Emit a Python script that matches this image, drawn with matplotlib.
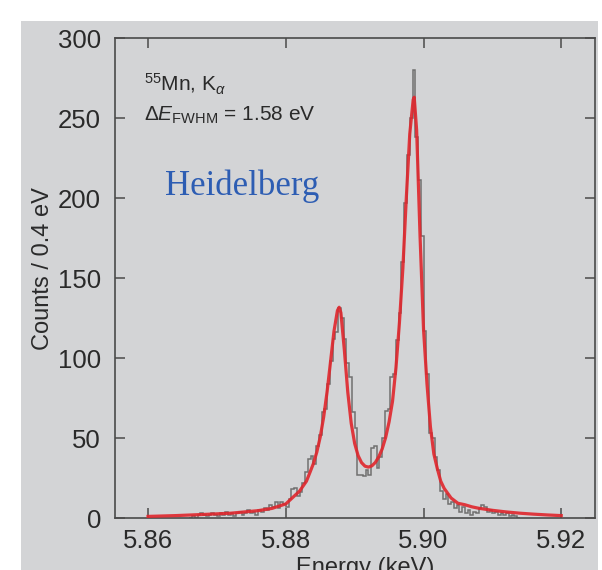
import numpy as np
import matplotlib
matplotlib.use("Agg")
import matplotlib.pyplot as plt
from matplotlib.patches import Rectangle

# Mn K-alpha spectrum, counts per 0.4 eV bin
bin_start = 5.866   # keV
bin_width = 0.0004  # keV (0.4 eV)
counts = [
    0, 1, 0, 2, 3, 2, 1, 2, 3, 2,
    1, 3, 2, 4, 2, 3, 1, 3, 4, 2,
    3, 5, 3, 4, 2, 5, 4, 6, 5, 8,
    7, 10, 6, 10, 9, 7, 12, 18, 19, 14,
    16, 22, 29, 37, 39, 34, 45, 52, 66, 68,
    84, 98, 112, 116, 131, 125, 112, 97, 88, 66,
    56, 27, 27, 26, 30, 27, 44, 45, 31, 38,
    50, 67, 68, 88, 90, 111, 128, 160, 197, 227,
    250, 280, 238, 211, 176, 117, 90, 53, 50, 38,
    30, 17, 12, 15, 9, 10, 6, 8, 4, 7,
    3, 5, 2, 4, 3, 6, 8, 7, 4, 5,
    3, 4, 2, 3, 2, 3, 1, 2, 1, 0,
]

# fitted line (red)
fit_e = [5.860, 5.864, 5.868, 5.872, 5.876, 5.878, 5.880, 5.881, 5.882, 5.883,
         5.8835, 5.884, 5.8845, 5.885, 5.8855, 5.886, 5.8865, 5.887, 5.8875, 5.88775,
         5.888, 5.8885, 5.889, 5.8895, 5.890, 5.8905, 5.891, 5.8915, 5.892, 5.8925,
         5.893, 5.8935, 5.894, 5.8945, 5.895, 5.8955, 5.896, 5.8965, 5.897, 5.8975,
         5.898, 5.8985, 5.89865, 5.899, 5.8995, 5.900, 5.9005, 5.901, 5.9015, 5.902,
         5.9025, 5.903, 5.904, 5.905, 5.906, 5.907, 5.908, 5.910, 5.912, 5.914,
         5.916, 5.918, 5.920]
fit_c = [1.0, 1.5, 2.2, 3.0, 4.6, 6.0, 8.8, 12.8, 16.8, 23.0,
         28.4, 33.9, 41.1, 50.6, 63.1, 79.0, 97.8, 116.8, 129.7, 131.7,
         128.3, 105.2, 78.7, 59.2, 46.6, 39.0, 34.6, 32.4, 31.8, 32.6,
         34.7, 38.2, 43.2, 50.3, 60.1, 73.0, 94.0, 122.0, 156.0, 200.0,
         240.0, 261.5, 263.0, 242.4, 175.6, 118.0, 84.0, 57.0, 40.0, 30.9,
         23.0, 18.5, 12.5, 9.2, 8.3, 7.0, 6.1, 4.8, 3.8, 3.0,
         2.4, 1.9, 1.5]

x_ticks = [5.86, 5.88, 5.90, 5.92]
y_ticks = [0, 50, 100, 150, 200, 250, 300]

bg = "#d3d4d6"
dark = "#4a4a4a"
txt = "#2a2a2a"

plt.rcParams["font.family"] = ["Liberation Sans", "DejaVu Sans"]
plt.rcParams["mathtext.fontset"] = "custom"
plt.rcParams["mathtext.rm"] = "Liberation Sans"
plt.rcParams["mathtext.it"] = "Liberation Sans:italic"

fig = plt.figure(figsize=(6.02, 5.70), dpi=100)
fig.patch.set_facecolor("white")
fig.patches.append(Rectangle((21 / 602, 0), 577 / 602, 549 / 570,
                             transform=fig.transFigure, facecolor=bg,
                             edgecolor="none", zorder=-10))

ax = fig.add_axes([115 / 602, 52 / 570, 480 / 602, 480 / 570])
ax.set_facecolor(bg)

edges = bin_start + bin_width * np.arange(len(counts) + 1)
ax.stairs(counts, edges, color="#707070", lw=1.1, zorder=2)
ax.plot(fit_e, fit_c, color="#e0262c", lw=2.3, alpha=0.9, zorder=3)

ax.set_xlim(5.8552, 5.9249)
ax.set_ylim(0, 300)
ax.set_xticks(x_ticks)
ax.set_xticklabels([f"{v:.2f}" for v in x_ticks])
ax.set_yticks(y_ticks)

for s in ax.spines.values():
    s.set_color(dark)
    s.set_linewidth(1.2)
ax.tick_params(direction="in", length=7, width=1.1, color=dark,
               labelsize=18.5, labelcolor=txt, top=True, right=True)
ax.tick_params(axis="y", pad=10)
ax.tick_params(axis="x", pad=8)

ax.set_ylabel("Counts / 0.4 eV", fontsize=17, color=txt)
ax.yaxis.set_label_coords(-0.128, 0.52)
# x label sits partly below the bottom edge, as in the source image
fig.text(365 / 602, 13 / 570, "Energy (keV)", fontsize=17, color=txt,
         ha="center", va="top")

fig.text(144 / 602, (570 - 91) / 570, r"$^{55}$Mn, K$_{\alpha}$",
         fontsize=15, color=txt, va="baseline")
fig.text(144 / 602, (570 - 121) / 570, r"$\Delta E_{\mathrm{FWHM}}$ = 1.58 eV",
         fontsize=15, color=txt, va="baseline")
fig.text(165 / 602, (570 - 195) / 570, "Heidelberg", fontsize=25,
         family=["Liberation Serif", "DejaVu Serif"], color="#2d5db3",
         va="baseline")

fig.savefig("out.png", dpi=100)
